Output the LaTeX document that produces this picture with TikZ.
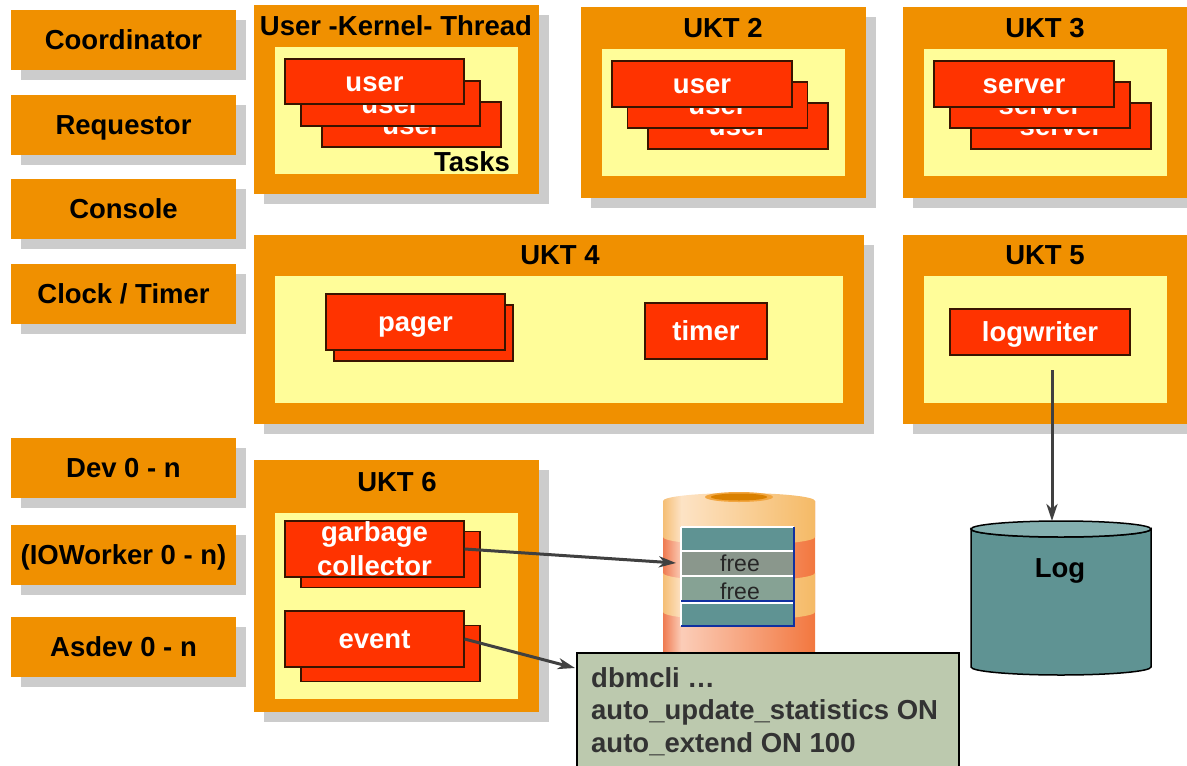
\documentclass[tikz,border=0pt]{standalone}
\usepackage{fontspec}
\setmainfont{Liberation Sans}
\usetikzlibrary{shadows,arrows.meta,calc}
\definecolor{org}{HTML}{F09000}
\definecolor{shg}{HTML}{CCCCCC}
\definecolor{yel}{HTML}{FFFD99}
\definecolor{tred}{HTML}{FF3300}
\definecolor{tbrd}{HTML}{3A1400}
\definecolor{teal}{HTML}{5F9393}
\definecolor{tealtop}{HTML}{84AFAF}
\definecolor{arr}{HTML}{404040}
\definecolor{dbmfill}{HTML}{BCC9AE}
\definecolor{dbmtxt}{HTML}{333333}
\definecolor{lbA}{HTML}{F5BE74}
\definecolor{lbB}{HTML}{FDE3C5}
\definecolor{lbC}{HTML}{F5BA66}
\definecolor{dbA}{HTML}{EF7A50}
\definecolor{dbB}{HTML}{FBCDB8}
\definecolor{dbC}{HTML}{F2773F}
\definecolor{rowA}{HTML}{8A978C}
\definecolor{rowB}{HTML}{86A294}
\definecolor{tblue}{HTML}{1030A0}
\definecolor{holec}{HTML}{D98000}
\definecolor{ringc}{HTML}{F2A640}
\pgfdeclarehorizontalshading{lightband}{100bp}{color(0bp)=(lbA); color(25bp)=(lbA); color(31bp)=(lbB); color(75bp)=(lbC); color(100bp)=(lbC)}
\pgfdeclarehorizontalshading{darkband}{100bp}{color(0bp)=(dbA); color(25bp)=(dbA); color(31bp)=(dbB); color(75bp)=(dbC); color(100bp)=(dbC)}
\begin{document}
\begin{tikzpicture}[x=1pt,y=-1pt,
  big/.style={font=\fontsize{27.5}{34}\selectfont\bfseries, text height=19.7pt, text depth=0pt},
  shbox/.style={rectangle, fill=org, inner sep=0pt, drop shadow={shadow xshift=10pt, shadow yshift=-10pt, fill=shg, opacity=1}},
  side/.style={shbox, minimum width=225pt, minimum height=60pt, big},
  yelbox/.style={rectangle, fill=yel, inner sep=0pt},
  task/.style={rectangle, fill=tred, draw=tbrd, line width=1.2pt, text=white, big, inner sep=0pt, align=center, minimum width=179pt, minimum height=45pt},
  ttl/.style={big, inner sep=0pt},
  conn/.style={draw=arr, line width=3pt, -{Stealth[length=17pt,width=11pt,inset=5pt]}},
  freetxt/.style={font=\fontsize{23}{23}\selectfont, text=black!85, text height=16.5pt, text depth=0pt, inner sep=0pt}
]
\useasboundingbox (0,0) rectangle (1187,766);

% left column
\node[side] (coord) at (123.5,40) {Coordinator};
\node[side] (req) at (123.5,125) {Requestor};
\node[side] (cons) at (123.5,209) {Console};
\node[side] (clock) at (123.5,294) {Clock / Timer};
\node[side] (dev) at (123.5,468) {Dev 0 - n};
\node[side] (iow) at (123.5,555) {(IOWorker 0 - n)};
\node[side] (asdev) at (123.5,647) {Asdev 0 - n};

% UKT 1
\node[shbox, minimum width=285pt, minimum height=189pt] (ukt1) at (396.5,99.5) {};
\node[yelbox, minimum width=243pt, minimum height=127pt] (ukt1i) at (396.5,110.5) {};
\node[ttl] (ukt1t) at (396,26) {User -Kernel- Thread};
\node[task] (u1c) at (411.5,124.5) {user};
\node[task] (u1b) at (390.5,103.5) {user};
\node[task] (u1a) at (374.5,81.5) {user};
\node[ttl] (tasks) at (472,162) {Tasks};

% UKT 2
\node[shbox, minimum width=285pt, minimum height=191pt] (ukt2) at (723.5,102.5) {};
\node[yelbox, minimum width=243pt, minimum height=127pt] (ukt2i) at (723.5,112.5) {};
\node[ttl] (ukt2t) at (723,28) {UKT 2};
\node[task, minimum width=180pt, minimum height=46pt] (u2c) at (738,126) {user};
\node[task, minimum width=180pt, minimum height=46pt] (u2b) at (717.5,105) {user};
\node[task, minimum width=180pt, minimum height=46pt] (u2a) at (702,84) {user};

% UKT 3
\node[shbox, minimum width=285pt, minimum height=191pt] (ukt3) at (1045.5,102.5) {};
\node[yelbox, minimum width=243pt, minimum height=127pt] (ukt3i) at (1045.5,112.5) {};
\node[ttl] (ukt3t) at (1045,28) {UKT 3};
\node[task, minimum width=180pt, minimum height=46pt] (s3c) at (1061,126) {server};
\node[task, minimum width=180pt, minimum height=46pt] (s3b) at (1040,105) {server};
\node[task, minimum width=180pt, minimum height=46pt] (s3a) at (1024,84) {server};

% UKT 4
\node[shbox, minimum width=610pt, minimum height=189pt] (ukt4) at (559,329.5) {};
\node[yelbox, minimum width=568pt, minimum height=127pt] (ukt4i) at (559,339.5) {};
\node[ttl] (ukt4t) at (560,255) {UKT 4};
\node[task, minimum height=56pt] (pgb) at (423.5,333) {};
\node[task, minimum height=56pt] (pga) at (415.5,322) {pager};
\node[task, minimum width=122pt, minimum height=56pt] (timer) at (706,331) {timer};

% UKT 5
\node[shbox, minimum width=285pt, minimum height=189pt] (ukt5) at (1045.5,329.5) {};
\node[yelbox, minimum width=243pt, minimum height=127pt] (ukt5i) at (1045.5,339.5) {};
\node[ttl] (ukt5t) at (1045,255) {UKT 5};
\node[task, minimum width=180pt, minimum height=46pt] (lw) at (1040,332) {logwriter};

% UKT 6
\node[shbox, minimum width=285pt, minimum height=252pt] (ukt6) at (396.5,586) {};
\node[yelbox, minimum width=243pt, minimum height=186pt] (ukt6i) at (396.5,606) {};
\node[ttl] (ukt6t) at (397,482) {UKT 6};
\node[task, minimum height=56pt] (gcb) at (390.5,559.5) {};
\node[task, minimum height=56pt, text height=53.7pt] (gca) at (374.5,549) {garbage\\collector};
\node[task, minimum height=56pt] (evb) at (390.5,653.5) {};
\node[task, minimum height=56pt] (eva) at (374.5,639) {event};

% disk
\shade[shading=darkband] (663,501) rectangle (815,668);
\shade[shading=lightband] (663,501) -- (663,537) arc[start angle=180, end angle=360, x radius=76pt, y radius=8pt] -- (815,501) arc[start angle=0, end angle=180, x radius=76pt, y radius=8pt] -- cycle;
\shade[shading=lightband] (663,573) arc[start angle=180, end angle=360, x radius=76pt, y radius=8pt] -- (815,612) arc[start angle=360, end angle=180, x radius=76pt, y radius=8pt] -- cycle;
\fill[ringc] (739,497) ellipse[x radius=34pt, y radius=5pt];
\fill[holec] (739,497) ellipse[x radius=28pt, y radius=3.5pt];
% table
\fill[teal] (681,527) rectangle (794,551);
\fill[rowA] (681,551) rectangle (794,576);
\fill[rowB] (681,576) rectangle (794,601);
\fill[teal] (681,601) rectangle (794,626);
\draw[white, line width=1.5pt] (681,527) -- (794,527) (681,551) -- (794,551) (681,576) -- (794,576) (681,603) -- (794,603) (681,527) -- (681,626);
\draw[tblue, line width=1.5pt] (681,601) -- (794,601) (794,527) -- (794,626) -- (681,626);
\node[freetxt] (free1) at (740,563) {free};
\node[freetxt] (free2) at (740,591) {free};
\coordinate (diskin) at (676,563);

% dbmcli box
\node[rectangle, fill=dbmfill, draw=black, line width=1.8pt, minimum width=382pt, minimum height=140pt, anchor=north west, inner sep=0pt] (dbm) at (576,652) {};
\node[font=\fontsize{27.5}{32.5}\selectfont\bfseries, text=dbmtxt, align=left, anchor=base west, inner sep=0pt] (dbmt) at (591,752) {dbmcli …\\auto\_update\_statistics ON\\auto\_extend ON 100};
\coordinate (evtEnd) at (575,668);

% Log cylinder
\filldraw[fill=teal, draw=black, line width=1.5pt] (971,529) -- (971,667) arc[start angle=180, end angle=360, x radius=90pt, y radius=8pt] -- (1151,529) arc[start angle=360, end angle=180, x radius=90pt, y radius=8pt] -- cycle;
\filldraw[fill=tealtop, draw=black, line width=1.5pt] (1061,529) ellipse[x radius=90pt, y radius=8pt];
\node[ttl] (log) at (1060,568) {Log};
\coordinate (logtop) at (1052,521);
\coordinate (lwout) at (1052,370);

% connectors
\draw[conn] (gca.east) -- (diskin);
\draw[conn] (eva.east) -- (evtEnd);
\draw[conn] (lwout) -- (logtop);
\end{tikzpicture}
\end{document}
